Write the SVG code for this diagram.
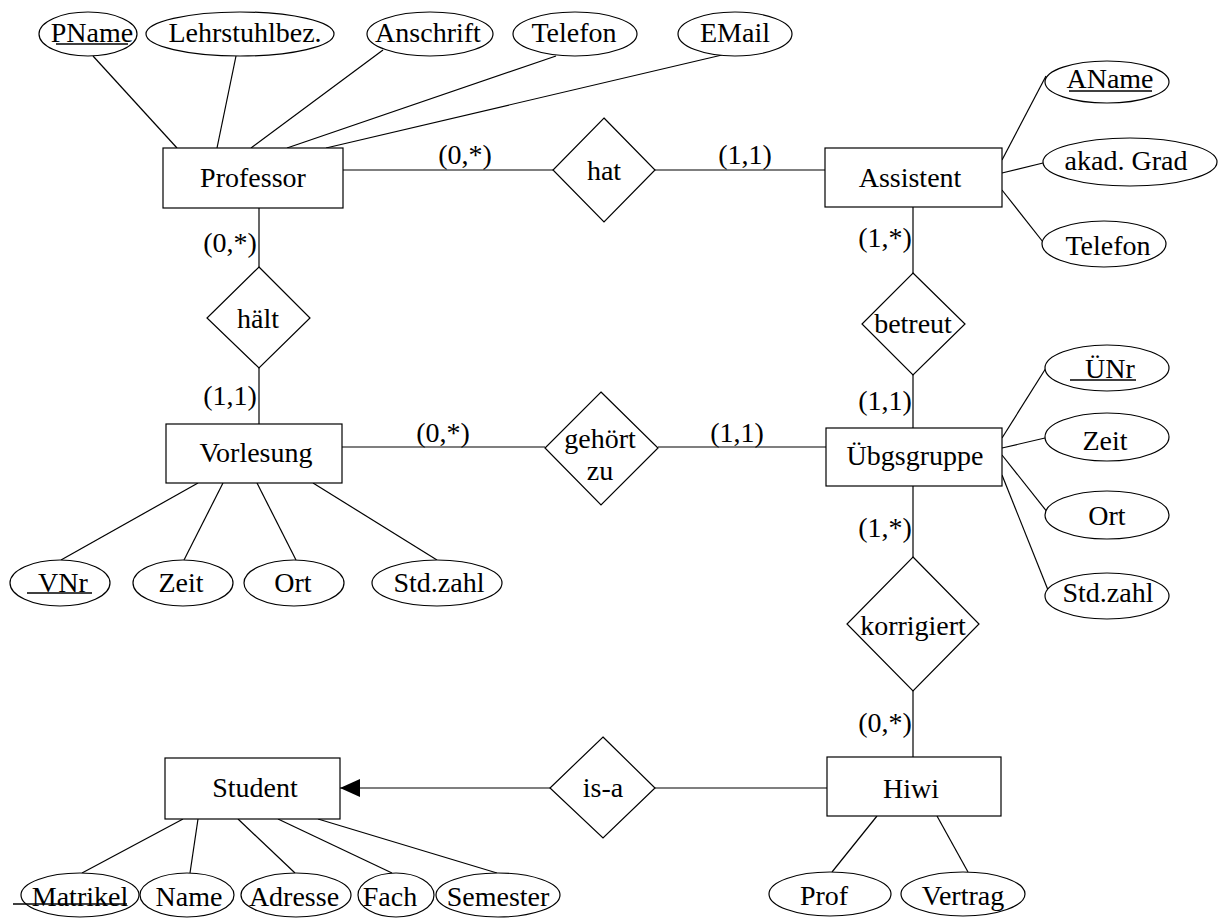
<svg xmlns="http://www.w3.org/2000/svg" width="1220" height="922" viewBox="0 0 1220 922">
<style>
.e,.r,.d{fill:#fff;stroke:#000;stroke-width:1.2}
#connectors line{stroke:#000;stroke-width:1.2}
.u{stroke:#000;stroke-width:1.5}
</style>
<defs>
<marker id="tri" viewBox="0 0 20 18" refX="20" refY="9" markerWidth="20" markerHeight="18" markerUnits="userSpaceOnUse" orient="auto">
<path d="M0,0 L20,9 L0,18 Z" fill="#000"/>
</marker>
</defs>
<rect width="1220" height="922" fill="#fff"/>
<g id="connectors">
<line x1="93" y1="56" x2="177" y2="148"/>
<line x1="236" y1="56" x2="217" y2="148"/>
<line x1="383" y1="50" x2="251" y2="148"/>
<line x1="556" y1="56" x2="287" y2="148"/>
<line x1="722" y1="55" x2="326" y2="148"/>
<line x1="343" y1="170" x2="553" y2="170"/>
<line x1="655" y1="170" x2="825" y2="170"/>
<line x1="1002" y1="160" x2="1046" y2="76"/>
<line x1="1002" y1="173" x2="1043" y2="163"/>
<line x1="1002" y1="190" x2="1043" y2="242"/>
<line x1="259" y1="208" x2="259" y2="267"/>
<line x1="259" y1="368" x2="259" y2="424"/>
<line x1="913" y1="207" x2="913" y2="273"/>
<line x1="913" y1="375" x2="913" y2="428"/>
<line x1="342" y1="447" x2="545" y2="447"/>
<line x1="658" y1="447" x2="826" y2="447"/>
<line x1="1002" y1="438" x2="1046" y2="368"/>
<line x1="1002" y1="448" x2="1045" y2="438"/>
<line x1="1002" y1="455" x2="1048" y2="513"/>
<line x1="1002" y1="475" x2="1048" y2="590"/>
<line x1="198" y1="483" x2="61" y2="560"/>
<line x1="223" y1="483" x2="184" y2="560"/>
<line x1="257" y1="483" x2="296" y2="560"/>
<line x1="313" y1="483" x2="437" y2="560"/>
<line x1="913" y1="486" x2="913" y2="557"/>
<line x1="913" y1="691" x2="913" y2="757"/>
<line x1="827" y1="788" x2="655" y2="788"/>
<line x1="550" y1="788" x2="340" y2="788" marker-end="url(#tri)"/>
<line x1="183" y1="819" x2="82" y2="873"/>
<line x1="198" y1="819" x2="190" y2="873"/>
<line x1="238" y1="819" x2="295" y2="873"/>
<line x1="278" y1="819" x2="392" y2="873"/>
<line x1="318" y1="819" x2="497" y2="873"/>
<line x1="877" y1="816" x2="832" y2="872"/>
<line x1="937" y1="816" x2="968" y2="872"/>
</g>
<g font-family="'Liberation Serif', Tinos, 'Times New Roman', 'DejaVu Serif', 'Noto Serif', serif" font-size="28" text-anchor="middle" fill="#000">
<g id="professor"><rect class="r" x="163" y="148" width="180" height="60"/><text x="253" y="187">Professor</text></g>
<g id="assistent"><rect class="r" x="825" y="148" width="177" height="59"/><text x="910" y="187">Assistent</text></g>
<g id="vorlesung"><rect class="r" x="166" y="424" width="176" height="59"/><text x="256" y="462">Vorlesung</text></g>
<g id="uebgsgruppe"><rect class="r" x="826" y="428" width="176" height="58"/><text x="915" y="465">Übgsgruppe</text></g>
<g id="student"><rect class="r" x="165" y="758" width="175" height="61"/><text x="255" y="797">Student</text></g>
<g id="hiwi"><rect class="r" x="827" y="757" width="174" height="59"/><text x="911" y="798">Hiwi</text></g>
<g id="hat"><polygon class="d" points="604,118 655,170 604,222 553,170"/><text x="604" y="180">hat</text></g>
<g id="haelt"><polygon class="d" points="259,267 310,318 259,368 207,318"/><text x="258" y="328">hält</text></g>
<g id="betreut"><polygon class="d" points="913,273 965,324 913,375 862,324"/><text x="913" y="333">betreut</text></g>
<g id="gehoertzu"><polygon class="d" points="601,392 658,448 601,505 545,448"/><text x="600" y="448">gehört</text><text x="600" y="480">zu</text></g>
<g id="korrigiert"><polygon class="d" points="913,557 979,624 913,691 847,624"/><text x="913" y="635">korrigiert</text></g>
<g id="isa"><polygon class="d" points="603,737 655,788 603,838 550,788"/><text x="603" y="797">is-a</text></g>
<g id="labels">
<text x="465" y="164">(0,*)</text>
<text x="745" y="164">(1,1)</text>
<text x="230" y="252">(0,*)</text>
<text x="230" y="405">(1,1)</text>
<text x="443" y="442">(0,*)</text>
<text x="737" y="442">(1,1)</text>
<text x="885" y="247">(1,*)</text>
<text x="885" y="410">(1,1)</text>
<text x="885" y="537">(1,*)</text>
<text x="885" y="732">(0,*)</text>
</g>
<g id="attr-pname"><ellipse class="e" cx="88" cy="34" rx="49" ry="22"/><text x="92" y="42">PName</text><line class="u" x1="56" y1="44" x2="128" y2="44"/></g>
<g id="attr-lehrstuhl"><ellipse class="e" cx="240" cy="34" rx="94" ry="22"/><text x="245" y="42">Lehrstuhlbez.</text></g>
<g id="attr-anschrift"><ellipse class="e" cx="430" cy="34" rx="63" ry="22"/><text x="428" y="42">Anschrift</text></g>
<g id="attr-ptelefon"><ellipse class="e" cx="575" cy="34" rx="62" ry="22"/><text x="574" y="42">Telefon</text></g>
<g id="attr-email"><ellipse class="e" cx="735" cy="34" rx="57" ry="22"/><text x="735" y="42">EMail</text></g>
<g id="attr-aname"><ellipse class="e" cx="1107" cy="82" rx="62" ry="21"/><text x="1110" y="88">AName</text><line class="u" x1="1069" y1="91" x2="1152" y2="91"/></g>
<g id="attr-grad"><ellipse class="e" cx="1130" cy="162" rx="87" ry="24"/><text x="1126" y="170">akad. Grad</text></g>
<g id="attr-atelefon"><ellipse class="e" cx="1104" cy="244" rx="62" ry="23"/><text x="1108" y="255">Telefon</text></g>
<g id="attr-uenr"><ellipse class="e" cx="1107" cy="368" rx="62" ry="23"/><text x="1110" y="378">ÜNr</text><line class="u" x1="1070" y1="380" x2="1136" y2="380"/></g>
<g id="attr-uzeit"><ellipse class="e" cx="1107" cy="437" rx="62" ry="24"/><text x="1105" y="450">Zeit</text></g>
<g id="attr-uort"><ellipse class="e" cx="1107" cy="515" rx="62" ry="24"/><text x="1107" y="525">Ort</text></g>
<g id="attr-ustd"><ellipse class="e" cx="1107" cy="596" rx="62" ry="23"/><text x="1108" y="602">Std.zahl</text></g>
<g id="attr-vnr"><ellipse class="e" cx="60" cy="583" rx="50" ry="23"/><text x="63" y="592">VNr</text><line class="u" x1="27" y1="593" x2="92" y2="593"/></g>
<g id="attr-vzeit"><ellipse class="e" cx="183" cy="583" rx="50" ry="23"/><text x="181" y="592">Zeit</text></g>
<g id="attr-vort"><ellipse class="e" cx="294" cy="583" rx="50" ry="23"/><text x="293" y="592">Ort</text></g>
<g id="attr-vstd"><ellipse class="e" cx="437" cy="583" rx="65" ry="23"/><text x="439" y="592">Std.zahl</text></g>
<g id="attr-matrikel"><ellipse class="e" cx="80" cy="895" rx="59" ry="22"/><text x="80" y="906">Matrikel</text><line class="u" x1="13" y1="904" x2="127" y2="904"/></g>
<g id="attr-name"><ellipse class="e" cx="187" cy="895" rx="47" ry="22"/><text x="189" y="906">Name</text></g>
<g id="attr-adresse"><ellipse class="e" cx="296" cy="895" rx="55" ry="22"/><text x="294" y="906">Adresse</text></g>
<g id="attr-fach"><ellipse class="e" cx="396" cy="895" rx="38" ry="22"/><text x="390" y="906">Fach</text></g>
<g id="attr-semester"><ellipse class="e" cx="498" cy="895" rx="62" ry="22"/><text x="498" y="906">Semester</text></g>
<g id="attr-prof"><ellipse class="e" cx="830" cy="894" rx="61" ry="22"/><text x="824" y="905">Prof</text></g>
<g id="attr-vertrag"><ellipse class="e" cx="963" cy="894" rx="62" ry="22"/><text x="963" y="905">Vertrag</text></g>
</g>
</svg>
